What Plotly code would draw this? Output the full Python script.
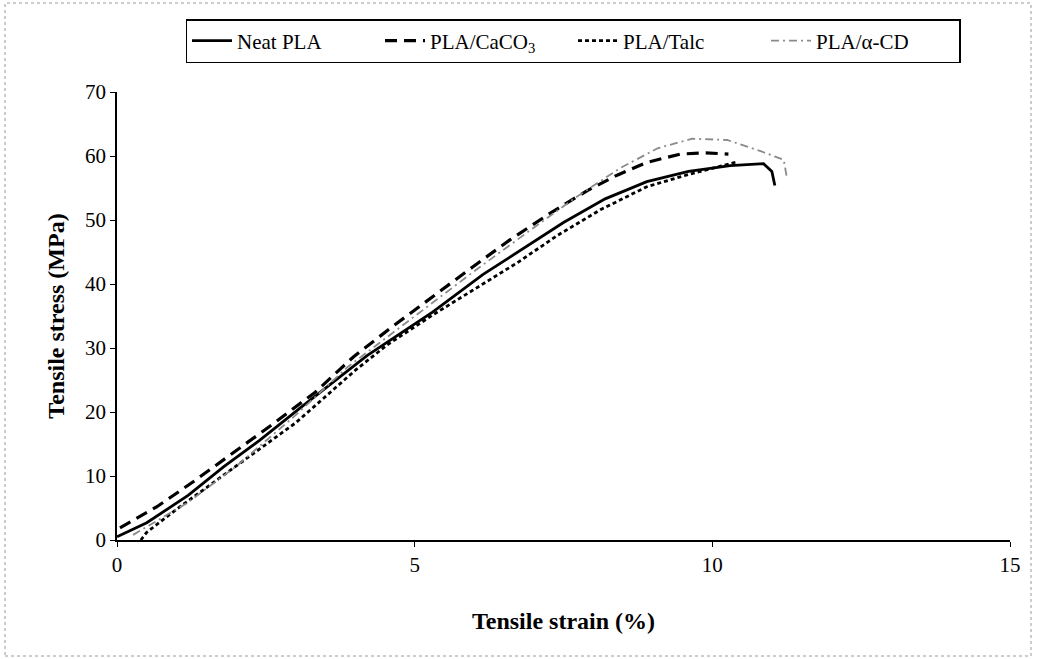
import plotly.graph_objects as go

# Data (strain %, stress MPa)
neat_x = [0.0, 0.5, 1.2, 1.8, 2.4, 3.1, 4.2, 5.3, 6.15, 6.95, 7.5, 8.2, 8.9, 9.6, 10.3, 10.86, 11.0, 11.05]
neat_y = [0.5, 2.7, 7.0, 11.5, 15.6, 20.8, 28.8, 35.6, 41.5, 46.3, 49.6, 53.3, 56.0, 57.6, 58.5, 58.8, 57.6, 55.4]

caco3_x = [0.05, 0.67, 1.28, 1.9, 2.6, 3.33, 3.97, 4.62, 5.29, 5.98, 6.6, 7.3, 7.9, 8.4, 8.9, 9.46, 9.88, 10.27]
caco3_y = [1.9, 5.2, 9.1, 13.3, 18.0, 23.1, 28.6, 33.3, 38.0, 42.7, 46.9, 51.2, 54.6, 57.0, 59.0, 60.3, 60.5, 60.3]

talc_x = [0.4, 0.5, 1.0, 2.0, 3.0, 4.0, 4.54, 5.31, 5.98, 6.72, 7.4, 8.12, 8.9, 9.63, 10.42]
talc_y = [0.0, 1.2, 4.8, 11.5, 18.3, 26.5, 30.5, 35.2, 39.1, 43.3, 47.6, 51.6, 55.2, 57.2, 59.1]

acd_x = [0.27, 0.69, 1.18, 2.0, 3.0, 3.87, 5.0, 6.0, 7.0, 7.7, 8.45, 9.08, 9.66, 10.25, 10.8, 11.2, 11.25]
acd_y = [0.8, 3.1, 5.8, 11.5, 19.5, 27.0, 35.0, 42.0, 48.8, 53.5, 58.1, 61.2, 62.7, 62.5, 60.8, 59.4, 56.7]

x_ticks = [0, 5, 10, 15]
y_ticks = [0, 10, 20, 30, 40, 50, 60, 70]

names = ["Neat PLA", "PLA/CaCO<sub>3</sub>", "PLA/Talc", "PLA/\u03b1-CD"]

font_family = "Liberation Serif"

fig = go.Figure()
fig.add_trace(go.Scatter(x=neat_x, y=neat_y, mode="lines", name=names[0],
                         line=dict(color="black", width=2.8, dash="solid")))
fig.add_trace(go.Scatter(x=caco3_x, y=caco3_y, mode="lines", name=names[1],
                         line=dict(color="black", width=3.2, dash="12px,7px")))
fig.add_trace(go.Scatter(x=talc_x, y=talc_y, mode="lines", name=names[2],
                         line=dict(color="black", width=2.8, dash="4px,3px")))
fig.add_trace(go.Scatter(x=acd_x, y=acd_y, mode="lines", name=names[3],
                         line=dict(color="#8a8a8a", width=1.8, dash="8px,4px,2px,4px")))

L, R, T, B = 117, 27, 92, 119
W, H = 1037, 659
pw = W - L - R
ph = H - T - B

def px(x):
    return (x - L) / pw

def py(y):
    return (H - B - y) / ph

fig.update_layout(
    width=W, height=H,
    margin=dict(l=L, r=R, t=T, b=B),
    paper_bgcolor="white", plot_bgcolor="white",
    font=dict(family=font_family, size=20, color="black"),
    showlegend=True,
    legend=dict(
        orientation="h",
        x=px(573), xanchor="center",
        y=py(19), yanchor="top",
        bordercolor="black", borderwidth=1.5,
        bgcolor="white",
        font=dict(family=font_family, size=21, color="black"),
        entrywidth=138, entrywidthmode="pixels",
        itemwidth=40,
    ),
    xaxis=dict(
        range=[0, 15], tickvals=x_ticks, ticktext=[str(v) for v in x_ticks],
        showgrid=False, zeroline=False, showline=True, linecolor="black", linewidth=1.5,
        ticks="outside", ticklen=5, tickcolor="black",
        tickfont=dict(family=font_family, size=21),
        title=dict(text="<b>Tensile strain (%)</b>", font=dict(family=font_family, size=24), standoff=36),
    ),
    yaxis=dict(
        range=[0, 70], tickvals=y_ticks, ticktext=[str(v) for v in y_ticks],
        showgrid=False, zeroline=False, showline=True, linecolor="black", linewidth=1.5,
        ticks="outside", ticklen=5, tickcolor="black",
        tickfont=dict(family=font_family, size=21),
        title=dict(text="<b>Tensile stress (MPa)</b>", font=dict(family=font_family, size=24), standoff=14),
    ),
)

# dotted figure border
fig.add_shape(type="rect", xref="paper", yref="paper",
              x0=px(5), x1=px(1031), y0=py(656), y1=py(3),
              line=dict(color="#9a9a9a", width=1, dash="dot"))

fig.write_html("out.html")
